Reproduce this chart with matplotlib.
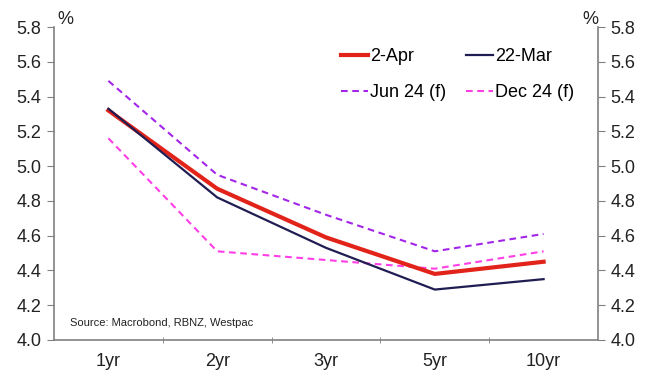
import matplotlib.pyplot as plt

plt.rcParams['font.family'] = ['Liberation Sans', 'DejaVu Sans']

tenors = ['1yr', '2yr', '3yr', '5yr', '10yr']
apr2 = [5.32, 4.87, 4.59, 4.38, 4.45]
mar22 = [5.33, 4.82, 4.53, 4.29, 4.35]
jun24_f = [5.49, 4.95, 4.72, 4.51, 4.61]
dec24_f = [5.16, 4.51, 4.46, 4.41, 4.51]
yticks = [4.0, 4.2, 4.4, 4.6, 4.8, 5.0, 5.2, 5.4, 5.6, 5.8]

W, H = 654, 371
fig = plt.figure(figsize=(W / 100, H / 100), dpi=100)
ax = fig.add_axes([54 / W, 1 - 340 / H, (598 - 54) / W, (340 - 27) / H])

x = range(len(tenors))
l_jun, = ax.plot(x, jun24_f, color='#a326e8', lw=1.5, dashes=(3.2, 2.2), label='Jun 24 (f)')
l_dec, = ax.plot(x, dec24_f, color='#ff3ee6', lw=1.5, dashes=(3.2, 2.2), label='Dec 24 (f)')
l_apr, = ax.plot(x, apr2, color='#e2231a', lw=3.0, label='2-Apr')
l_mar, = ax.plot(x, mar22, color='#201d52', lw=1.6, label='22-Mar')

ax.set_xlim(-0.5, len(tenors) - 0.5)
ax.set_ylim(4.0, 5.8)
ax.set_yticks(yticks)
ax.set_yticklabels([f'{v:.1f}' for v in yticks])
ax.set_xticks(x)
ax.set_xticklabels(tenors)
ax.set_xticks([i + 0.5 for i in range(len(tenors) - 1)], minor=True)

grey = '#808080'
for side in ['left', 'right', 'bottom']:
    ax.spines[side].set_color(grey)
    ax.spines[side].set_linewidth(1.2)
ax.spines['top'].set_visible(False)

ax.tick_params(axis='y', which='both', left=True, right=True, labelleft=True,
               labelright=True, direction='out', length=5, color=grey,
               labelsize=13, labelcolor='#222222', pad=4)
ax.tick_params(axis='x', which='major', length=0, labelsize=13,
               labelcolor='#222222', pad=9)
ax.tick_params(axis='x', which='minor', length=4, direction='inout', color=grey)

fig.text(57 / W, 1 - 19 / H, '%', fontsize=13, color='#222222', va='center')
fig.text(582 / W, 1 - 19 / H, '%', fontsize=13, color='#222222', va='center')
fig.text(70 / W, 1 - 323 / H, 'Source: Macrobond, RBNZ, Westpac', fontsize=8,
         color='#222222', va='center')

ax.legend(handles=[l_apr, l_jun, l_mar, l_dec], ncol=2, frameon=False,
          loc='upper left', bbox_to_anchor=(341 / W, 1 - 48 / H),
          bbox_transform=fig.transFigure, fontsize=13, handlelength=1.5,
          handletextpad=0.1, columnspacing=1.1, labelspacing=1.05,
          borderaxespad=0, borderpad=0)

fig.savefig('out.png', dpi=100)
